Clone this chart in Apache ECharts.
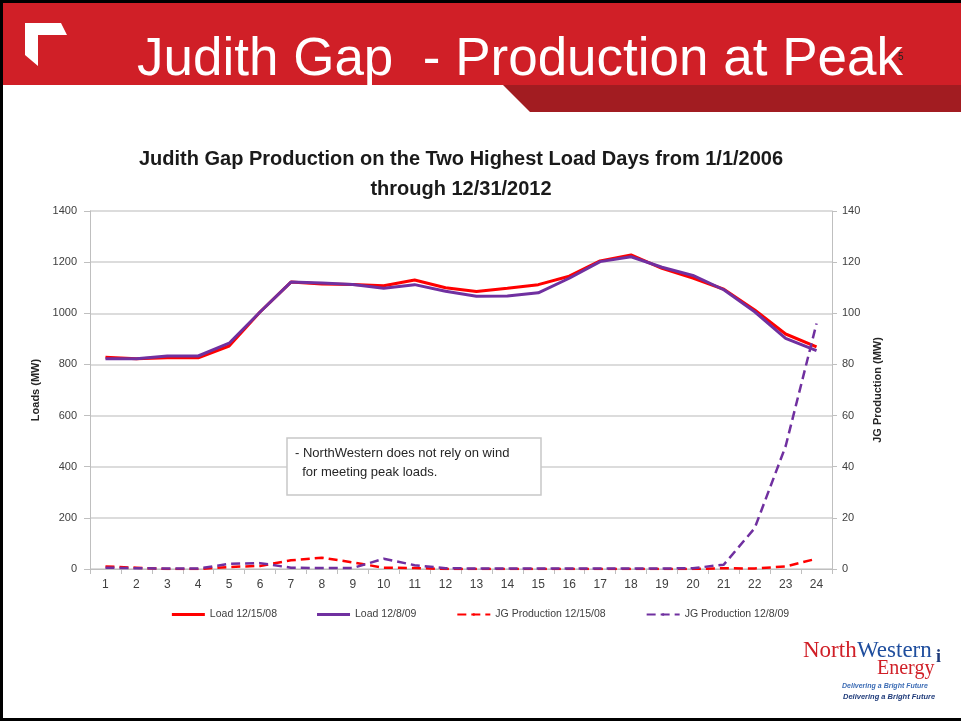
<!DOCTYPE html>
<html>
<head>
<meta charset="utf-8">
<script src="https://cdn.jsdelivr.net/npm/echarts@6/dist/echarts.min.js"></script>
<style>
  html, body { margin: 0; padding: 0; background: #fff; }
  #chart { width: 961px; height: 721px; }
</style>
</head>
<body>
<div id="chart"></div>
<script>
// hours of the day
const hours = ['1','2','3','4','5','6','7','8','9','10','11','12','13','14','15','16','17','18','19','20','21','22','23','24']
// loads (MW), left axis
const load121508 = [828, 822, 826, 826, 872, 1005, 1122, 1115, 1113, 1108, 1130, 1100, 1085, 1098, 1112, 1145, 1205, 1228, 1176, 1138, 1094, 1013, 919, 869]
const load12809 = [822, 822, 833, 833, 883, 1005, 1122, 1118, 1113, 1098, 1112, 1086, 1067, 1068, 1080, 1137, 1202, 1221, 1180, 1148, 1092, 1006, 902, 854]
// Judith Gap production (MW), right axis
const jg121508 = [1, 0.5, 0, 0, 0.8, 1.2, 3.4, 4.4, 2.6, 0.5, 0.4, 0, 0, 0, 0, 0, 0, 0, 0, 0, 0.3, 0.2, 1, 4]
const jg12809 = [0.5, 0.3, 0.2, 0.2, 2, 2.3, 0.5, 0.4, 0.4, 4, 1.5, 0.3, 0.2, 0.2, 0.2, 0.2, 0.2, 0.2, 0.2, 0.3, 1.7, 16, 48, 96]

const chart = echarts.init(document.getElementById('chart'))
const red = '#ff0000'
const purple = '#7030a0'
const font = '"Liberation Sans", Arial, sans-serif'

const option = {
  animation: false,
  title: {
    text: 'Judith Gap Production on the Two Highest Load Days from 1/1/2006\nthrough 12/31/2012',
    left: 456,
    top: 139,
    textAlign: 'center',
    textStyle: { fontFamily: font, fontSize: 20, fontWeight: 'bold', color: '#1a1a1a', lineHeight: 30 }
  },
  legend: {
    bottom: 96,
    left: 'center',
    padding: [5, 35, 5, 5],
    itemWidth: 33,
    itemHeight: 3,
    itemGap: 40,
    textStyle: { fontFamily: font, fontSize: 10.5, color: '#404040' },
    data: [
      { name: 'Load 12/15/08', icon: 'rect', itemStyle: { color: red } },
      { name: 'Load 12/8/09', icon: 'rect', itemStyle: { color: purple } },
      { name: 'JG Production 12/15/08' },
      { name: 'JG Production 12/8/09' }
    ]
  },
  grid: { left: 90, right: 129, top: 211, bottom: 152 },
  xAxis: {
    type: 'category',
    data: hours,
    axisLine: { lineStyle: { color: '#bfbfbf' } },
    axisTick: { show: true, length: 5, lineStyle: { color: '#bfbfbf' } },
    axisLabel: { fontFamily: font, fontSize: 12, color: '#404040', margin: 10 }
  },
  yAxis: [
    {
      type: 'value',
      min: 0, max: 1400, interval: 200,
      name: 'Loads (MW)',
      nameLocation: 'middle',
      nameGap: 34,
      nameTextStyle: { fontFamily: font, fontSize: 11, fontWeight: 'bold', color: '#262626' },
      axisLine: { show: true, lineStyle: { color: '#bfbfbf' } },
      axisTick: { show: true, length: 6, lineStyle: { color: '#bfbfbf' } },
      axisLabel: { fontFamily: font, fontSize: 11, color: '#404040', margin: 13, formatter: v => String(v) },
      splitLine: { lineStyle: { color: '#d0d0d0', width: 1.5 } }
    },
    {
      type: 'value',
      min: 0, max: 140, interval: 20,
      name: 'JG Production (MW)',
      nameLocation: 'middle',
      nameGap: 40,
      nameRotate: 90,
      nameTextStyle: { fontFamily: font, fontSize: 11, fontWeight: 'bold', color: '#262626' },
      axisLine: { show: true, lineStyle: { color: '#bfbfbf' } },
      axisTick: { show: true, length: 5, lineStyle: { color: '#bfbfbf' } },
      axisLabel: { fontFamily: font, fontSize: 11, color: '#404040', margin: 10, formatter: v => String(v) },
      splitLine: { show: false }
    }
  ],
  series: [
    {
      name: 'Load 12/15/08', type: 'line', data: load121508, yAxisIndex: 0,
      symbol: 'none', lineStyle: { color: red, width: 3 }, itemStyle: { color: red }, z: 3
    },
    {
      name: 'Load 12/8/09', type: 'line', data: load12809, yAxisIndex: 0,
      symbol: 'none', lineStyle: { color: purple, width: 3 }, itemStyle: { color: purple }, z: 4
    },
    {
      name: 'JG Production 12/15/08', type: 'line', data: jg121508, yAxisIndex: 1,
      symbol: 'none', lineStyle: { color: red, width: 2.5, type: [9, 5] }, itemStyle: { color: red }, z: 3
    },
    {
      name: 'JG Production 12/8/09', type: 'line', data: jg12809, yAxisIndex: 1,
      symbol: 'none', lineStyle: { color: purple, width: 2.5, type: [9, 5] }, itemStyle: { color: purple }, z: 4
    }
  ],
  graphic: [
    // header band
    { type: 'rect', shape: { x: 0, y: 0, width: 961, height: 85 }, style: { fill: '#d01f27' }, z: 10 },
    { type: 'polygon', shape: { points: [[503, 85], [961, 85], [961, 112], [530, 112]] }, style: { fill: '#a21c21' }, z: 10 },
    { type: 'rect', shape: { x: 0, y: 0, width: 961, height: 3 }, style: { fill: '#000' }, z: 11 },
    { type: 'rect', shape: { x: 0, y: 0, width: 3, height: 721 }, style: { fill: '#000' }, z: 11 },
    { type: 'rect', shape: { x: 0, y: 718, width: 961, height: 3 }, style: { fill: '#000' }, z: 11 },
    // corner bracket icon
    { type: 'polygon', shape: { points: [[25, 23], [61, 23], [67, 35], [38, 35], [38, 66], [25, 55]] }, style: { fill: '#fff' }, z: 11 },
    {
      type: 'text', left: 137, top: 34, z: 11,
      style: { text: 'Judith Gap  - Production at Peak', fill: '#fff', font: '53px "Liberation Sans", Arial, sans-serif' }
    },
    { type: 'text', left: 898, top: 52, z: 11, style: { text: '5', fill: '#222', font: '10px "Liberation Sans", Arial, sans-serif' } },
    // note box
    { type: 'rect', shape: { x: 287, y: 438, width: 254, height: 57 }, style: { fill: '#fff', stroke: '#c8c8c8', lineWidth: 1.5 }, z: 5 },
    {
      type: 'text', left: 295, top: 444, z: 6,
      style: { text: '- NorthWestern does not rely on wind\n  for meeting peak loads.', fill: '#262626', font: '13px "Liberation Sans", Arial, sans-serif', lineHeight: 19 }
    },
    // logo
    { type: 'text', left: 803, top: 639, z: 11, style: { text: 'North', fill: '#d01f27', font: '23px "Liberation Serif", "Times New Roman", serif' } },
    { type: 'text', left: 857, top: 639, z: 11, style: { text: 'Western', fill: '#1f4e9e', font: '23px "Liberation Serif", "Times New Roman", serif' } },
    { type: 'text', left: 936, top: 648, z: 11, style: { text: 'i', fill: '#1f3b7a', font: 'bold 18px "Liberation Serif", serif' } },
    { type: 'text', left: 877, top: 659, z: 11, style: { text: 'Energy', fill: '#d01f27', font: '20px "Liberation Serif", "Times New Roman", serif' } },
    { type: 'text', left: 842, top: 683, z: 11, style: { text: 'Delivering a Bright Future', fill: '#3d6db5', font: 'italic bold 7px "Liberation Sans", Arial, sans-serif' } },
    { type: 'text', left: 843, top: 693, z: 11, style: { text: 'Delivering a Bright Future', fill: '#1f3b7a', font: 'italic bold 7.5px "Liberation Sans", Arial, sans-serif' } }
  ]
}

chart.setOption(option)
window.onresize = () => {
  chart.resize()
}
</script>
</body>
</html>
